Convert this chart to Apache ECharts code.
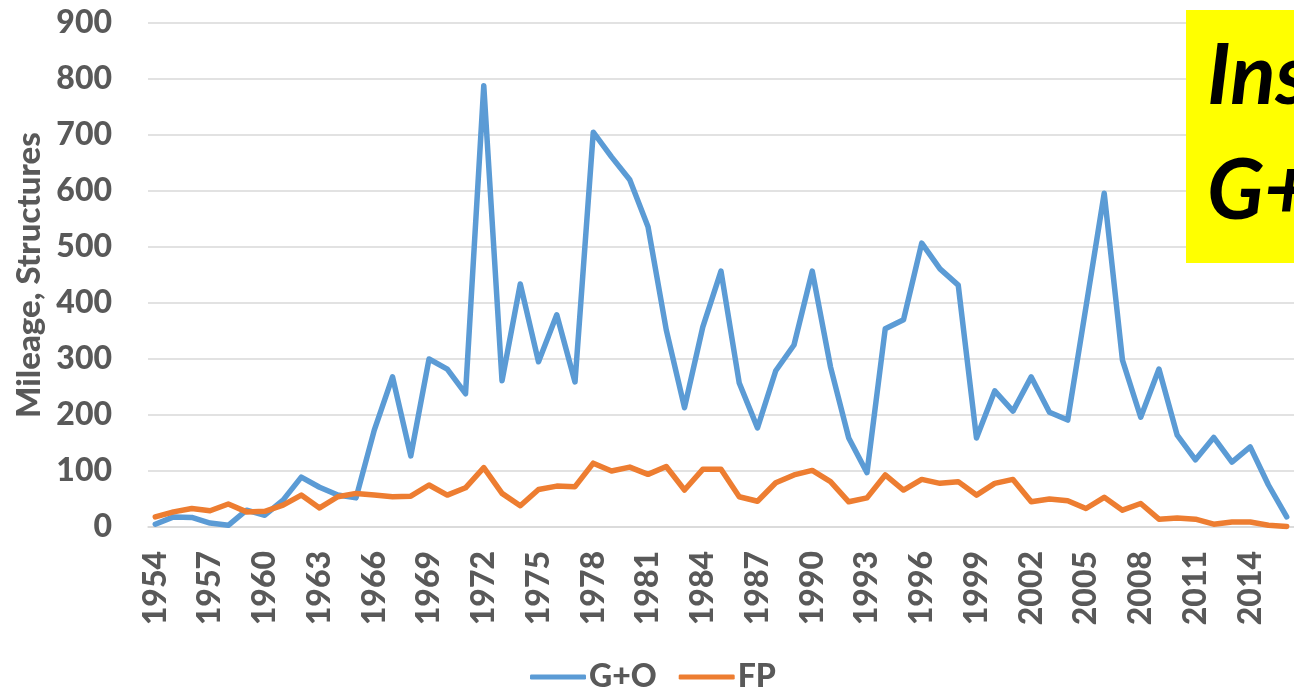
<!DOCTYPE html>
<html>
<head>
<meta charset="utf-8">
<script src="https://cdn.jsdelivr.net/npm/echarts@6/dist/echarts.min.js"></script>
<style>
html,body{margin:0;padding:0;background:#fff;}
#chart{width:1294px;height:688px;}
</style>
</head>
<body>
<div id="chart"></div>
<script>
const years = [];
for (let y = 1954; y <= 2016; y++) years.push(y);
const tickYears = [1954,1957,1960,1963,1966,1969,1972,1975,1978,1981,1984,1987,1990,1993,1996,1999,2002,2005,2008,2011,2014];
const goValues = [5,18,17,7,3,30,21,48,89,71,57,52,173,268,127,300,282,238,788,261,434,295,379,259,705,661,620,536,352,213,357,457,257,177,279,325,457,286,159,97,354,370,507,461,432,159,243,207,268,205,191,393,596,298,196,282,164,120,160,116,143,75,18];
const fpValues = [18,27,33,29,41,27,28,39,57,34,54,60,57,54,55,75,57,70,106,60,38,67,73,72,114,100,107,94,108,66,103,103,54,46,79,93,101,81,45,52,93,66,85,78,81,57,78,85,45,50,47,33,53,30,42,14,16,14,5,9,9,3,1];
const seriesNames = ['G+O', 'FP'];
const boxLines = ['Ins', 'G+'];

const FONT = 'Lato';
const GREY = '#595959';
const W = 900;
const chart = echarts.init(document.getElementById('chart'));
chart.setOption({
  animation: false,
  backgroundColor: '#ffffff',
  grid: { left: 148, right: 0, top: 23, bottom: 161, outerBoundsMode: 'none', containLabel: false },
  xAxis: {
    type: 'value',
    min: 1953.6,
    max: 2016.4,
    axisLine: { show: true, lineStyle: { color: '#d9d9d9', width: 1.5 } },
    axisTick: { show: false },
    splitLine: { show: false },
    axisLabel: {
      customValues: tickYears,
      formatter: v => String(v),
      rotate: 90,
      margin: 24,
      color: GREY,
      fontFamily: FONT,
      fontWeight: W,
      fontSize: 32
    }
  },
  yAxis: {
    type: 'value',
    min: 0,
    max: 900,
    interval: 100,
    name: 'Mileage, Structures',
    nameLocation: 'middle',
    nameRotate: 90,
    nameGap: 102,
    nameTextStyle: { color: GREY, fontFamily: FONT, fontWeight: W, fontSize: 33 },
    axisLine: { show: false },
    axisTick: { show: false },
    splitLine: { lineStyle: { color: '#d9d9d9', width: 1.5 } },
    axisLabel: { margin: 36, color: GREY, fontFamily: FONT, fontWeight: W, fontSize: 32 }
  },
  legend: {
    left: 525,
    top: 656,
    itemWidth: 56,
    itemHeight: 5,
    itemGap: 22,
    icon: 'roundRect',
    textStyle: { color: GREY, fontFamily: FONT, fontWeight: W, fontSize: 32, padding: [0,0,0,-2] },
    data: seriesNames
  },
  series: [
    {
      name: seriesNames[0], type: 'line', symbol: 'none',
      color: '#5B9BD5',
      lineStyle: { width: 5.5, color: '#5B9BD5', join: 'round', cap: 'round' },
      data: years.map((y, i) => [y, goValues[i]])
    },
    {
      name: seriesNames[1], type: 'line', symbol: 'none',
      color: '#ED7D31',
      lineStyle: { width: 5.5, color: '#ED7D31', join: 'round', cap: 'round' },
      data: years.map((y, i) => [y, fpValues[i]])
    }
  ],
  graphic: [
    { type: 'rect', left: 1186, top: 10, shape: { width: 108, height: 253 }, style: { fill: '#FFFF00' }, z: 10 },
    { type: 'text', left: 1207, top: 35, z: 11, style: { text: boxLines[0], fill: '#000', font: 'italic bold 84px Lato' } },
    { type: 'text', left: 1207, top: 150, z: 11, style: { text: boxLines[1], fill: '#000', font: 'italic bold 84px Lato' } }
  ]
});
</script>
</body>
</html>
